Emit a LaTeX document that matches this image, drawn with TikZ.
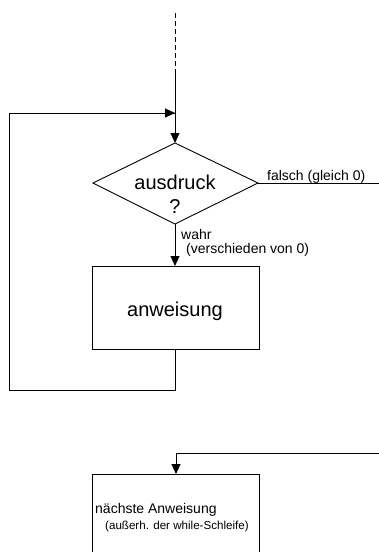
\documentclass[tikz,border=0pt]{standalone}
\usepackage{fontspec}
\setmainfont{Liberation Sans}
\usetikzlibrary{arrows.meta}
\begin{document}
\begin{tikzpicture}[x=1pt,y=-1pt,
  line/.style={draw=black,line width=0.9pt},
  flow/.style={line,-{Triangle[length=10pt,width=9pt]}},
  lbl/.style={inner sep=0pt,font=\fontsize{14}{16}\selectfont},
  big/.style={inner sep=0pt,font=\fontsize{20}{24}\selectfont},
  small/.style={inner sep=0pt,font=\fontsize{11.6}{13}\selectfont}]
\useasboundingbox (0,0) rectangle (379,552);

% Flow from above
\coordinate (start) at (175,13);
\coordinate (dashend) at (175,74);
\coordinate (join) at (175,113);
\draw[line,dash pattern=on 5pt off 3pt] (start) -- (dashend);

% Condition diamond
\coordinate (dtop) at (175,143);
\coordinate (dright) at (258,183);
\coordinate (dbot) at (175,224);
\coordinate (dleft) at (93,183);
\draw[line] (dtop) -- (dright) -- (dbot) -- (dleft) -- cycle;
\node[big,anchor=base] (cond) at (175,189) {ausdruck};
\node[big,anchor=base] (q) at (175,213) {?};

\draw[line] (dashend) -- (join);
\draw[flow] (join) -- (dtop);

% False branch
\coordinate (falseend) at (380,183);
\draw[line] (dright) -- (falseend);
\node[lbl,anchor=base west] (falsch) at (267,180) {falsch (gleich 0)};

% Body of the loop
\coordinate (bodytop) at (175,266);
\coordinate (bodybot) at (175,349);
\draw[line] (92,266) rectangle (259,349);
\node[big,anchor=base] (bodytxt) at (175,316) {anweisung};
\draw[flow] (dbot) -- (bodytop);
\node[lbl,anchor=base west] (wahr) at (181,239) {wahr};
\node[lbl,anchor=base west] (nonzero) at (186,253) {(verschieden von 0)};

% Back edge
\coordinate (b1) at (175,390);
\coordinate (b2) at (9,390);
\coordinate (b3) at (9,113);
\draw[line] (bodybot) -- (b1) -- (b2) -- (b3) -- (join);
\draw[flow] (b3) -- (join);

% Next statement
\coordinate (nxtin) at (380,453);
\coordinate (nxtcorner) at (176,453);
\draw[line] (92,560) -- (92,474) -- (259,474) -- (259,560);
\coordinate (nxttop) at (176,474);
\draw[line] (nxtin) -- (nxtcorner);
\draw[flow] (nxtcorner) -- (nxttop);
\node[lbl,anchor=base west] (next) at (95,513) {nächste Anweisung};
\node[small,anchor=base west] (outside) at (105,529) {(außerh. der while-Schleife)};
\end{tikzpicture}
\end{document}
